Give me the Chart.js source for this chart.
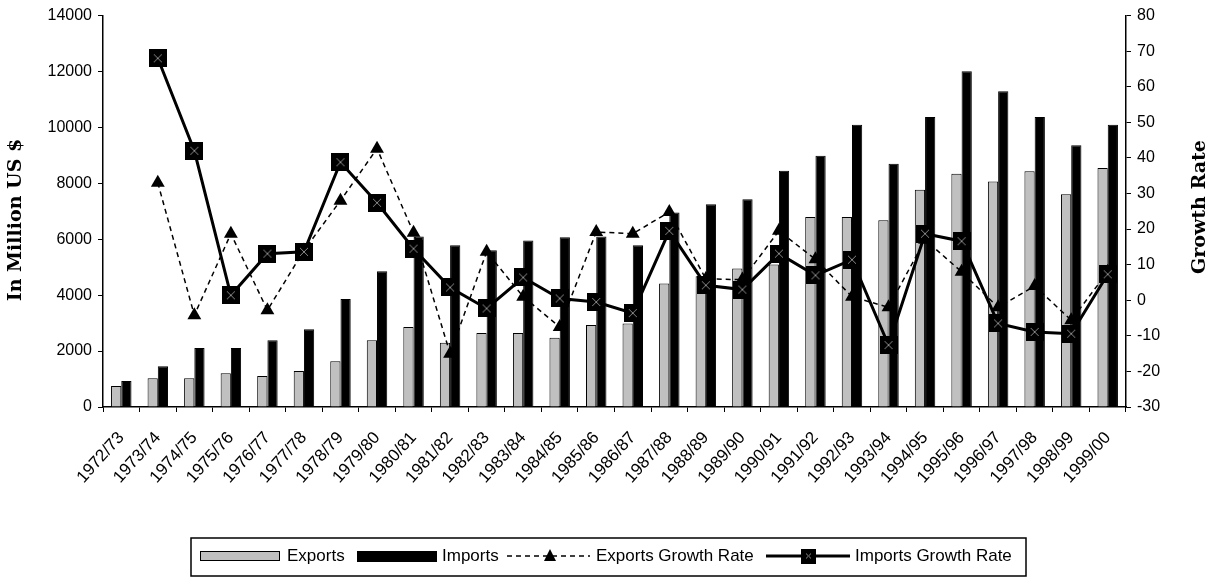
<!DOCTYPE html>
<html>
<head>
<meta charset="utf-8">
<title>Exports and Imports</title>
<script src="https://cdn.jsdelivr.net/npm/chart.js@4.4.1/dist/chart.umd.min.js"></script>
<style>
  html, body { margin: 0; padding: 0; background: #fff; }
  #wrap { width: 1212px; height: 578px; position: relative; }
</style>
</head>
<body>
<div id="wrap"><canvas id="trade-chart"></canvas></div>
<script>
// ── Data ─────────────────────────────────────────────────────
const years = [
  '1972/73', '1973/74', '1974/75', '1975/76', '1976/77', '1977/78', '1978/79',
  '1979/80', '1980/81', '1981/82', '1982/83', '1983/84', '1984/85', '1985/86',
  '1986/87', '1987/88', '1988/89', '1989/90', '1990/91', '1991/92', '1992/93',
  '1993/94', '1994/95', '1995/96', '1996/97', '1997/98', '1998/99', '1999/00'
];
const exportsUSD = [
  750, 1030, 1030, 1210, 1110, 1290, 1640, 2390, 2860, 2300, 2650, 2650, 2480, 2930,
  2990, 4420, 4680, 4950, 5100, 6800, 6800, 6680, 7770, 8340, 8070, 8430, 7610, 8550
];
const importsUSD = [
  930, 1460, 2110, 2110, 2390, 2780, 3860, 4860, 6100, 5790, 5610, 5960, 6070, 6100,
  5790, 6960, 7250, 7430, 8450, 8990, 10100, 8700, 10370, 12010, 11290, 10370, 9360, 10100
];
const exportsGrowth = [
  null, 33, -4.2, 18.7, -2.8, 14, 28, 42.6, 19, -15, 13.6, 1, -7.5, 19.2,
  18.7, 24.8, 6, 5.8, 19.5, 11.5, 1, -2, 17, 8, -2, 4, -5.6, 8
];
const importsGrowth = [
  null, 68, 42, 1.4, 13.1, 13.6, 38.8, 27.4, 14.5, 3.6, -2.3, 6.4, 0.5, -0.5,
  -3.6, 19.5, 4.2, 3.0, 13.1, 7.0, 11.4, -12.6, 18.7, 16.6, -6.5, -8.9, -9.4, 7.3
];

const TICK_FONT = { family: 'Liberation Sans', size: 16 };
const plainTick = v => String(v);

// square marker with a grey cross, like the old spreadsheet style
function squareMarker(size) {
  const c = document.createElement('canvas');
  c.width = size; c.height = size;
  const g = c.getContext('2d');
  g.fillStyle = '#000';
  g.fillRect(0, 0, size, size);
  g.strokeStyle = '#8a8a8a';
  g.lineWidth = 1;
  g.beginPath();
  g.moveTo(5, 5); g.lineTo(size - 5, size - 5);
  g.moveTo(size - 5, 5); g.lineTo(5, size - 5);
  g.stroke();
  return c;
}
const sqImg = squareMarker(18);
const sqLegend = squareMarker(15);

// ── Axis titles (both read bottom to top) ────────────────────
const axisTitles = {
  id: 'axisTitles',
  afterDraw(chart) {
    const ctx = chart.ctx;
    ctx.save();
    ctx.fillStyle = '#000';
    ctx.font = 'bold 19px "DejaVu Serif"';
    ctx.textAlign = 'center';
    ctx.textBaseline = 'middle';
    [['In Million US $', 16, 220], ['Growth Rate', 1200, 207]].forEach(([txt, x, y]) => {
      ctx.save();
      ctx.translate(x, y);
      ctx.rotate(-Math.PI / 2);
      ctx.fillText(txt, 0, 0);
      ctx.restore();
    });
    ctx.restore();
  }
};

// ── Boxed legend at the bottom ───────────────────────────────
const boxLegend = {
  id: 'boxLegend',
  afterDraw(chart) {
    const ctx = chart.ctx;
    const ds = chart.data.datasets;
    const cy = 556;
    ctx.save();
    ctx.fillStyle = '#fff';
    ctx.fillRect(191, 538, 835, 38);
    ctx.strokeStyle = '#000';
    ctx.lineWidth = 1.5;
    ctx.strokeRect(191, 538, 835, 38);

    ctx.font = '17px "Liberation Sans"';
    ctx.textBaseline = 'middle';
    ctx.textAlign = 'left';

    // bar swatches
    ctx.lineWidth = 1;
    ctx.fillStyle = ds[0].backgroundColor;
    ctx.fillRect(200, 551, 80, 10);
    ctx.strokeRect(200.5, 551.5, 79, 9);
    ctx.fillStyle = '#000';
    ctx.fillText(ds[0].label, 287, cy);
    ctx.fillRect(357, 551, 80, 11);
    ctx.fillText(ds[1].label, 442, cy);

    // dashed line + triangle
    ctx.setLineDash([5, 4]);
    ctx.lineWidth = 1.5;
    ctx.beginPath(); ctx.moveTo(507, cy); ctx.lineTo(590, cy); ctx.stroke();
    ctx.setLineDash([]);
    ctx.beginPath();
    ctx.moveTo(550, cy - 7); ctx.lineTo(556, cy + 5); ctx.lineTo(544, cy + 5); ctx.closePath();
    ctx.fill();
    ctx.fillText(ds[2].label, 596, cy);

    // solid line + square
    ctx.lineWidth = 3;
    ctx.beginPath(); ctx.moveTo(766, cy); ctx.lineTo(850, cy); ctx.stroke();
    ctx.drawImage(sqLegend, 801, cy - 7.5);
    ctx.fillText(ds[3].label, 855, cy);
    ctx.restore();
  }
};

new Chart(document.getElementById('trade-chart'), {
  type: 'bar',
  data: {
    labels: years,
    datasets: [
      {
        label: 'Exports',
        data: exportsUSD,
        backgroundColor: '#c0c0c0',
        borderColor: '#000',
        borderWidth: 1,
        yAxisID: 'y',
        order: 2,
        categoryPercentage: 0.56,
        barPercentage: 1.0,
      },
      {
        label: 'Imports',
        data: importsUSD,
        backgroundColor: '#000',
        borderColor: '#000',
        borderWidth: 1,
        yAxisID: 'y',
        order: 3,
        categoryPercentage: 0.56,
        barPercentage: 1.0,
      },
      {
        type: 'line',
        label: 'Exports Growth Rate',
        data: exportsGrowth,
        yAxisID: 'y1',
        borderColor: '#000',
        backgroundColor: '#000',
        borderWidth: 1.5,
        borderDash: [5, 4],
        pointStyle: 'triangle',
        pointRadius: 8,
        pointBorderWidth: 0,
        tension: 0,
        order: 1,
      },
      {
        type: 'line',
        label: 'Imports Growth Rate',
        data: importsGrowth,
        yAxisID: 'y1',
        borderColor: '#000',
        backgroundColor: '#000',
        borderWidth: 3,
        pointStyle: sqImg,
        tension: 0,
        order: 0,
      }
    ]
  },
  options: {
    responsive: true,
    maintainAspectRatio: false,
    animation: false,
    layout: { padding: { top: 15, bottom: 0, left: 0, right: 0 } },
    plugins: {
      legend: { display: false },
      tooltip: { enabled: false }
    },
    scales: {
      x: {
        offset: true,
        grid: { offset: true, drawOnChartArea: false, color: '#000', tickLength: 5, lineWidth: 1 },
        border: { color: '#000', width: 1.5 },
        ticks: {
          color: '#000', font: { family: 'Liberation Sans', size: 17 }, autoSkip: false,
          minRotation: 48, maxRotation: 48, padding: 16
        },
        afterFit: s => { s.height = 171; }
      },
      y: {
        position: 'left',
        min: 0, max: 14000,
        ticks: { stepSize: 2000, color: '#000', font: TICK_FONT, padding: 6, callback: plainTick },
        grid: { drawOnChartArea: false, color: '#000', tickLength: 5 },
        border: { color: '#000', width: 1.5 },
        afterFit: s => { s.width = 103; }
      },
      y1: {
        position: 'right',
        min: -30, max: 80,
        ticks: { stepSize: 10, color: '#000', font: TICK_FONT, padding: 6, callback: plainTick },
        grid: { drawOnChartArea: false, color: '#000', tickLength: 5 },
        border: { color: '#000', width: 1.5 },
        afterFit: s => { s.width = 86; }
      }
    }
  },
  plugins: [axisTitles, boxLegend]
});
</script>
</body>
</html>
